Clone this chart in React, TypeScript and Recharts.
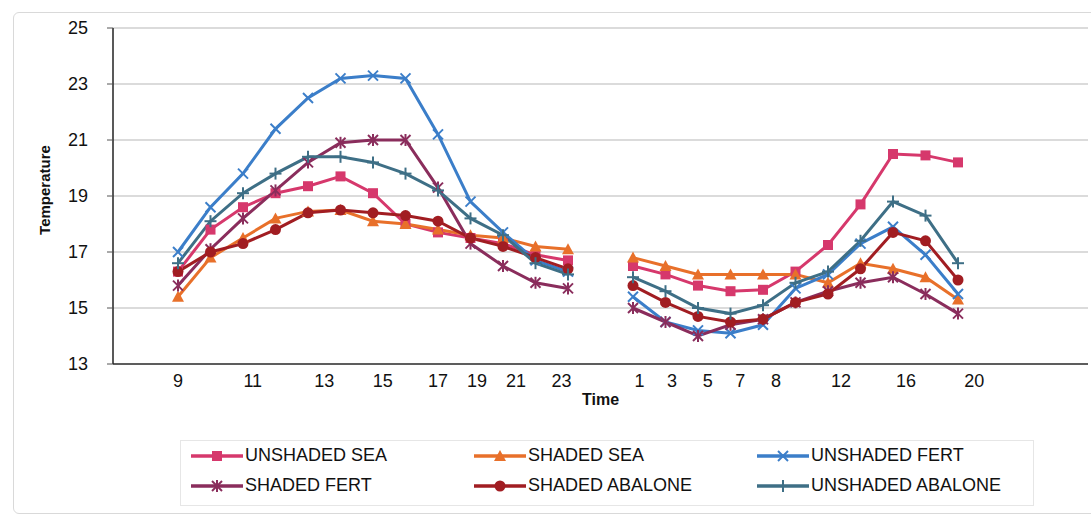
import React from 'react'
import { LineChart, Line, XAxis, YAxis, CartesianGrid, Label } from 'recharts'

// slot positions along the time axis (one slot per reading, blank slot between the two days)
const daySlots = [2, 3, 4, 5, 6, 7, 8, 9, 10, 11, 12, 13, 14]
const gapSlot = 15
const nightSlots = [16, 17, 18, 19, 20, 21, 22, 23, 24, 25, 26]

// time labels as printed under the axis
const tickLabels = ['9', '11', '13', '15', '17', '19', '21', '23', '1', '3', '5', '7', '8', '12', '16', '20']
const tickSlots = [2, 4.3, 6.5, 8.3, 10, 11.2, 12.4, 13.8, 16.2, 17.2, 18.3, 19.3, 20.4, 22.4, 24.4, 26.5]

const yTicks = [13, 15, 17, 19, 21, 23, 25]

const unshadedSeaDay = [16.3, 17.8, 18.6, 19.1, 19.35, 19.7, 19.1, 18.0, 17.7, 17.5, 17.3, 16.9, 16.7]
const unshadedSeaNight = [16.5, 16.2, 15.8, 15.6, 15.65, 16.3, 17.25, 18.7, 20.5, 20.45, 20.2]

const shadedSeaDay = [15.4, 16.8, 17.5, 18.2, 18.45, 18.5, 18.1, 18.0, 17.8, 17.6, 17.5, 17.2, 17.1]
const shadedSeaNight = [16.8, 16.5, 16.2, 16.2, 16.2, 16.2, 15.9, 16.6, 16.4, 16.1, 15.3]

const unshadedFertDay = [17.0, 18.6, 19.8, 21.4, 22.5, 23.2, 23.3, 23.2, 21.2, 18.8, 17.7, 16.7, 16.3]
const unshadedFertNight = [15.4, 14.5, 14.2, 14.1, 14.4, 15.7, 16.2, 17.3, 17.9, 16.9, 15.5]

const shadedFertDay = [15.8, 17.1, 18.2, 19.2, 20.2, 20.9, 21.0, 21.0, 19.3, 17.3, 16.5, 15.9, 15.7]
const shadedFertNight = [15.0, 14.5, 14.0, 14.4, 14.6, 15.2, 15.6, 15.9, 16.1, 15.5, 14.8]

const shadedAbaloneDay = [16.3, 17.0, 17.3, 17.8, 18.4, 18.5, 18.4, 18.3, 18.1, 17.5, 17.2, 16.8, 16.4]
const shadedAbaloneNight = [15.8, 15.2, 14.7, 14.5, 14.6, 15.2, 15.5, 16.4, 17.7, 17.4, 16.0]

const unshadedAbaloneDay = [16.6, 18.1, 19.1, 19.8, 20.4, 20.4, 20.2, 19.8, 19.2, 18.2, 17.6, 16.6, 16.2]
const unshadedAbaloneNight = [16.1, 15.6, 15.0, 14.8, 15.1, 15.9, 16.3, 17.4, 18.8, 18.3, 16.6]

type Shape = 'square' | 'triangle' | 'x' | 'star' | 'circle' | 'plus'

const series: { key: string; name: string; color: string; shape: Shape; day: number[]; night: number[] }[] = [
  { key: 'us', name: 'UNSHADED SEA', color: '#d6386c', shape: 'square', day: unshadedSeaDay, night: unshadedSeaNight },
  { key: 'ss', name: 'SHADED SEA', color: '#e8702a', shape: 'triangle', day: shadedSeaDay, night: shadedSeaNight },
  { key: 'uf', name: 'UNSHADED FERT', color: '#3b7ec9', shape: 'x', day: unshadedFertDay, night: unshadedFertNight },
  { key: 'sf', name: 'SHADED FERT', color: '#8a2d5c', shape: 'star', day: shadedFertDay, night: shadedFertNight },
  { key: 'sa', name: 'SHADED ABALONE', color: '#a11d22', shape: 'circle', day: shadedAbaloneDay, night: shadedAbaloneNight },
  { key: 'ua', name: 'UNSHADED ABALONE', color: '#3e6f86', shape: 'plus', day: unshadedAbaloneDay, night: unshadedAbaloneNight },
]

const data: Record<string, number | null>[] = [
  ...daySlots.map((slot, i) => {
    const row: Record<string, number | null> = { slot }
    series.forEach((s) => (row[s.key] = s.day[i]))
    return row
  }),
  (() => {
    const row: Record<string, number | null> = { slot: gapSlot }
    series.forEach((s) => (row[s.key] = null))
    return row
  })(),
  ...nightSlots.map((slot, i) => {
    const row: Record<string, number | null> = { slot }
    series.forEach((s) => (row[s.key] = s.night[i]))
    return row
  }),
]

const FONT = '"Liberation Sans", Arial, sans-serif'

function Marker({ shape, cx, cy, color }: { shape: Shape; cx: number; cy: number; color: string }) {
  const r = 5
  switch (shape) {
    case 'square':
      return <rect x={cx - r} y={cy - r} width={r * 2} height={r * 2} fill={color} />
    case 'triangle':
      return <polygon points={`${cx},${cy - 6} ${cx + 6},${cy + 5} ${cx - 6},${cy + 5}`} fill={color} />
    case 'circle':
      return <circle cx={cx} cy={cy} r={5.5} fill={color} />
    case 'x':
      return (
        <g stroke={color} strokeWidth={2}>
          <line x1={cx - r} y1={cy - r} x2={cx + r} y2={cy + r} />
          <line x1={cx - r} y1={cy + r} x2={cx + r} y2={cy - r} />
        </g>
      )
    case 'star':
      return (
        <g stroke={color} strokeWidth={2}>
          <line x1={cx - r} y1={cy - r} x2={cx + r} y2={cy + r} />
          <line x1={cx - r} y1={cy + r} x2={cx + r} y2={cy - r} />
          <line x1={cx} y1={cy - 6} x2={cx} y2={cy + 6} />
        </g>
      )
    default:
      return (
        <g stroke={color} strokeWidth={2}>
          <line x1={cx - 6} y1={cy} x2={cx + 6} y2={cy} />
          <line x1={cx} y1={cy - 6} x2={cx} y2={cy + 6} />
        </g>
      )
  }
}

function ChartLegend() {
  return (
    <div
      style={{
        position: 'absolute',
        left: 180,
        top: 440,
        width: 852,
        height: 64,
        border: '1px solid #e6e6e6',
        fontFamily: FONT,
        fontSize: 18,
        color: '#111',
      }}
    >
      {series.map((s, i) => {
        const col = i % 3
        const row = Math.floor(i / 3)
        return (
          <div
            key={s.key}
            style={{ position: 'absolute', left: 8 + col * 283, top: 4 + row * 30, display: 'flex', alignItems: 'center', whiteSpace: 'nowrap' }}
          >
            <svg width={56} height={20}>
              <line x1={2} y1={10} x2={54} y2={10} stroke={s.color} strokeWidth={3.5} />
              <Marker shape={s.shape} cx={28} cy={10} color={s.color} />
            </svg>
            <span>{s.name}</span>
          </div>
        )
      })}
    </div>
  )
}

export default function App() {
  const labelFor = (v: number) => {
    const idx = tickSlots.indexOf(v)
    return idx >= 0 ? tickLabels[idx] : ''
  }

  return (
    <div style={{ position: 'absolute', left: 0, top: 0, width: 1091, height: 519, background: '#fff' }}>
      <div
        style={{
          position: 'absolute',
          left: 13,
          top: 12,
          width: 1090,
          height: 500,
          border: '1px solid #d9d9d9',
          borderRadius: 6,
        }}
      />
      <LineChart width={1091} height={519} data={data} margin={{ top: 28, right: 3, left: 0, bottom: 125 }}>
        <CartesianGrid horizontal vertical={false} stroke="#cfcfcf" strokeWidth={1.5} />
        <XAxis
          dataKey="slot"
          type="number"
          domain={[0, 30]}
          ticks={tickSlots}
          interval={0}
          tickFormatter={labelFor}
          tickLine={false}
          tickSize={0}
          tickMargin={10}
          height={30}
          axisLine={{ stroke: '#333', strokeWidth: 1.5 }}
          tick={{ fontSize: 18, fill: '#111', fontFamily: FONT }}
        >
          <Label value="Time" position="bottom" offset={0} style={{ fontSize: 16, fontWeight: 700, fill: '#111', fontFamily: FONT }} />
        </XAxis>
        <YAxis
          domain={[13, 25]}
          ticks={yTicks}
          interval={0}
          width={113}
          tickSize={6}
          tickMargin={19}
          tickLine={{ stroke: '#555' }}
          axisLine={{ stroke: '#222', strokeWidth: 1.5 }}
          tick={{ fontSize: 18, fill: '#111', fontFamily: FONT }}
        >
          <Label
            content={() => (
              <text
                x={44}
                y={190}
                transform="rotate(-90 44 190)"
                textAnchor="middle"
                dominantBaseline="central"
                style={{ fontSize: 15, fontWeight: 700, fill: '#111', fontFamily: FONT }}
              >
                Temperature
              </text>
            )}
          />
        </YAxis>
        {series.map((s) => (
          <Line
            key={s.key}
            dataKey={s.key}
            name={s.name}
            type="linear"
            stroke={s.color}
            strokeWidth={3}
            isAnimationActive={false}
            connectNulls={false}
            dot={(p: any) =>
              p.cx == null || p.cy == null || p.value == null ? (
                <g key={`${s.key}-${p.index}`} />
              ) : (
                <g key={`${s.key}-${p.index}`}>
                  <Marker shape={s.shape} cx={p.cx} cy={p.cy} color={s.color} />
                </g>
              )
            }
            activeDot={false}
          />
        ))}
      </LineChart>
      <ChartLegend />
    </div>
  )
}
